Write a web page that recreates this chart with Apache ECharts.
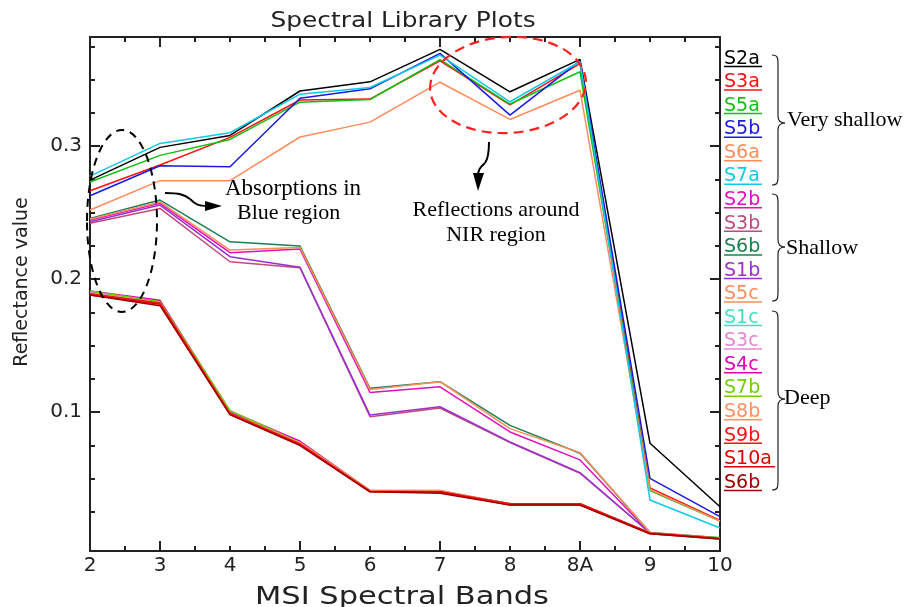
<!DOCTYPE html>
<html>
<head>
<meta charset="utf-8">
<script src="https://cdn.jsdelivr.net/npm/echarts@6/dist/echarts.min.js"></script>
<style>html,body{margin:0;padding:0;background:#fff}#c{width:904px;height:607px}</style>
</head>
<body>
<div id="c"></div>
<script>
// ---- data ----
const CATS = ['2','3','4','5','6','7','8','8A','9','10'];
const Y_LABELS = [0.1, 0.2, 0.3];
const NAMES = ['S2a','S3a','S5a','S5b','S6a','S7a','S2b','S3b','S6b','S1b','S5c','S1c','S3c','S4c','S7b','S8b','S9b','S10a','S6b'];
// Very shallow
const S2a  = [0.2744,0.2990,0.3080,0.3414,0.3483,0.3727,0.3408,0.3652,0.0765,0.0288];
const S3a  = [0.2664,0.2857,0.3065,0.3346,0.3353,0.3640,0.3310,0.3620,0.0430,0.0185];
const S5a  = [0.2730,0.2930,0.3050,0.3330,0.3350,0.3650,0.3316,0.3559,0.0410,0.0180];
const S5b  = [0.2626,0.2852,0.2844,0.3360,0.3430,0.3697,0.3233,0.3640,0.0501,0.0213];
const S6a  = [0.2519,0.2740,0.2740,0.3068,0.3180,0.3480,0.3200,0.3420,0.0417,0.0180];
const S7a  = [0.2774,0.3020,0.3100,0.3390,0.3440,0.3684,0.3333,0.3634,0.0338,0.0128];
// Shallow
const S2b  = [0.2444,0.2569,0.2198,0.2225,0.1147,0.1190,0.0850,0.0640,0.0090,0.0050];
const S3b  = [0.2419,0.2531,0.2130,0.2085,0.0965,0.1030,0.0770,0.0540,0.0090,0.0050];
const S6b_shallow = [0.2456,0.2594,0.2280,0.2248,0.1178,0.1228,0.0900,0.0690,0.0095,0.0055];
const S1b  = [0.2431,0.2556,0.2168,0.2088,0.0977,0.1040,0.0775,0.0544,0.0090,0.0050];
const S5c  = [0.2450,0.2580,0.2218,0.2238,0.1170,0.1228,0.0875,0.0695,0.0095,0.0050];
// Deep
const S1c  = [0.1890,0.1820,0.1000,0.0760,0.0405,0.0400,0.0310,0.0310,0.0090,0.0055];
const S3c  = [0.1900,0.1835,0.1010,0.0780,0.0410,0.0410,0.0310,0.0310,0.0090,0.0050];
const S4c  = [0.1910,0.1840,0.1000,0.0780,0.0410,0.0400,0.0310,0.0310,0.0090,0.0050];
const S7b  = [0.1910,0.1830,0.1010,0.0770,0.0410,0.0405,0.0310,0.0310,0.0090,0.0055];
const S8b  = [0.1890,0.1820,0.0990,0.0770,0.0410,0.0410,0.0305,0.0305,0.0090,0.0050];
const S9b  = [0.1890,0.1820,0.0990,0.0760,0.0405,0.0400,0.0310,0.0310,0.0090,0.0050];
const S10a = [0.1880,0.1810,0.0980,0.0750,0.0400,0.0400,0.0300,0.0300,0.0085,0.0045];
const S6b_deep = [0.1880,0.1800,0.0980,0.0750,0.0400,0.0390,0.0300,0.0300,0.0085,0.0045];

const SERIES_VALUES = [S2a,S3a,S5a,S5b,S6a,S7a,S2b,S3b,S6b_shallow,S1b,S5c,S1c,S3c,S4c,S7b,S8b,S9b,S10a,S6b_deep];
const COLORS = ['#000000','#ff1010','#10c010','#1a1ae0','#ff8c5a','#10c8e8',
                '#e010c0','#c04a78','#1a8050','#9a30d0','#ff8c5a',
                '#40e0c0','#e488d4','#e000b8','#70d000','#ff9060','#ff1010','#e00000','#a00000'];

// ---- chart ----
const chart = echarts.init(document.getElementById('c'), null, {renderer:'canvas'});
const AX = '#222';
const FONT = 'DejaVu Sans';
const halves = []; for (let i = 0.5; i <= 9; i += 0.5) halves.push(i);
const majX = [1,3,5,7,9];
const catIdx = CATS.map((c,i)=>i);
const minorY = []; for (let k = 1; k <= 15; k++) minorY.push(+(k*0.025).toFixed(3));

function xAx(pos, ticks, len, withLabel, withLine){
  return {type:'value', min:0, max:9, position:pos, gridIndex:0,
    axisLine:{show:withLine, onZero:false, lineStyle:{color:AX, width:2}},
    axisTick:{show:true, inside:true, length:len, customValues:ticks, lineStyle:{color:AX, width:2}},
    axisLabel:{show:withLabel, customValues:catIdx, formatter:v=>CATS[Math.round(v)], color:AX, fontSize:20, fontFamily:FONT, margin:5},
    splitLine:{show:false}};
}
function yAx(pos, ticks, len, withLabel, withLine){
  return {type:'value', min:-0.0045, max:0.382, position:pos, gridIndex:0,
    axisLine:{show:withLine, onZero:false, lineStyle:{color:AX, width:2}},
    axisTick:{show:true, inside:true, length:len, customValues:ticks, lineStyle:{color:AX, width:2}},
    axisLabel:{show:withLabel, customValues:Y_LABELS, formatter:v=>v.toFixed(1), color:AX, fontSize:20, fontFamily:FONT, margin:8},
    splitLine:{show:false}};
}

const series = SERIES_VALUES.map((vals, s) => ({
  type:'line', name:NAMES[s], xAxisIndex:0, yAxisIndex:0, symbol:'none', animation:false,
  lineStyle:{width:1.5, color:COLORS[s]}, itemStyle:{color:COLORS[s]},
  data: vals.map((v,i)=>[i,v])
}));

// legend drawn as text with underline
const graphics = [];
NAMES.forEach((n, i) => {
  const y = 58.5 + i*23.55;
  const w = n.length === 3 ? 38 : 51;
  graphics.push({type:'text', x:724, y:y, scaleX:0.95, style:{text:n, fill:COLORS[i], font:'20px "DejaVu Sans"', textVerticalAlign:'middle', textAlign:'left'}});
  graphics.push({type:'line', shape:{x1:724, y1:y+8, x2:724+w, y2:y+8}, style:{stroke:COLORS[i], lineWidth:1.5}});
});
const BS = {stroke:'#222', fill:null, lineWidth:1.2};
function bez(x1,y1,c1x,c1y,c2x,c2y,x2,y2,st){
  return {type:'bezierCurve', shape:{x1:x1,y1:y1,cpx1:c1x,cpy1:c1y,cpx2:c2x,cpy2:c2y,x2:x2,y2:y2}, style:st, z:10};
}
function ln(x1,y1,x2,y2,st){ return {type:'line', shape:{x1:x1,y1:y1,x2:x2,y2:y2}, style:st, z:10}; }
function brace(x0, top, mid, bot){
  const b = x0+6;
  graphics.push(bez(x0,top, b,top, b,top+3, b,top+10, BS));
  graphics.push(ln(b,top+10, b,mid-7, BS));
  graphics.push(bez(b,mid-7, b,mid-2, b+2,mid, b+7,mid, BS));
  graphics.push(bez(b+7,mid, b+2,mid, b,mid+2, b,mid+7, BS));
  graphics.push(ln(b,mid+7, b,bot-10, BS));
  graphics.push(bez(b,bot-10, b,bot-3, b,bot, x0,bot, BS));
}
brace(772,55,123,185); brace(772,194,247,301); brace(772,311,399,490);

const serifTxt = (t,x,y,align,sz)=>({type:'text', x:x, y:y, style:{text:t, fill:'#000', font:(sz||22)+'px "Liberation Serif"', textAlign:align||'left', textVerticalAlign:'middle'}, z:10});
graphics.push(serifTxt('Very shallow',787,120));
graphics.push(serifTxt('Shallow',786,248));
graphics.push(serifTxt('Deep',784,398));
graphics.push(serifTxt('Absorptions in',225,189,'left',23));
graphics.push(serifTxt('Blue region',237,213));
graphics.push(serifTxt('Reflections around',496,210,'center'));
graphics.push(serifTxt('NIR region',496,235,'center'));
// ellipses
graphics.push({type:'ellipse', x:122, y:221, shape:{cx:0, cy:0, rx:35, ry:91}, style:{stroke:'#000', fill:null, lineWidth:2, lineDash:[8,6]}, z:10});
graphics.push({type:'ellipse', x:508, y:85, rotation:0.06, shape:{cx:0, cy:0, rx:78, ry:48}, style:{stroke:'#ff2020', fill:null, lineWidth:2.2, lineDash:[10,6]}, z:10});
// arrows
const AS = {stroke:'#000', fill:null, lineWidth:2};
graphics.push(bez(165,193, 180,193, 185,195, 190,199, AS));
graphics.push(bez(190,199, 195,204, 198,206, 208,206, AS));
graphics.push({type:'polygon', shape:{points:[[205,201],[222,206],[205,211]]}, style:{fill:'#000'}, z:10});
graphics.push(bez(489,142, 489,154, 488,159, 485,163, AS));
graphics.push(bez(485,163, 481,167, 478,169, 478,176, AS));
graphics.push({type:'polygon', shape:{points:[[473,173],[478,191],[484,173]]}, style:{fill:'#000'}, z:10});
// titles
graphics.push({type:'text', x:403, y:21, scaleX:1.13, style:{text:'Spectral Library Plots', fill:AX, font:'22px "DejaVu Sans"', textAlign:'center', textVerticalAlign:'middle'}});
graphics.push({type:'text', x:402, y:598, scaleX:1.27, style:{text:'MSI Spectral Bands', fill:AX, font:'24px "DejaVu Sans"', textAlign:'center', textVerticalAlign:'middle'}});
graphics.push({type:'text', x:22, y:282, rotation:Math.PI/2, style:{text:'Reflectance value', fill:AX, font:'19px "DejaVu Sans"', textAlign:'center', textVerticalAlign:'middle'}});

chart.setOption({
  animation:false,
  backgroundColor:'#fff',
  grid:{left:90, right:184, top:37, bottom:56, containLabel:false},
  xAxis:[
    xAx('bottom', majX, 10, true, true),
    xAx('bottom', halves, 5, false, false),
    xAx('top', majX, 10, false, true),
    xAx('top', halves, 5, false, false)
  ],
  yAxis:[
    yAx('left', Y_LABELS, 10, true, true),
    yAx('left', minorY, 5, false, false),
    yAx('right', Y_LABELS, 10, false, true),
    yAx('right', minorY, 5, false, false)
  ],
  series: series,
  graphic: graphics
});
</script>
</body>
</html>
